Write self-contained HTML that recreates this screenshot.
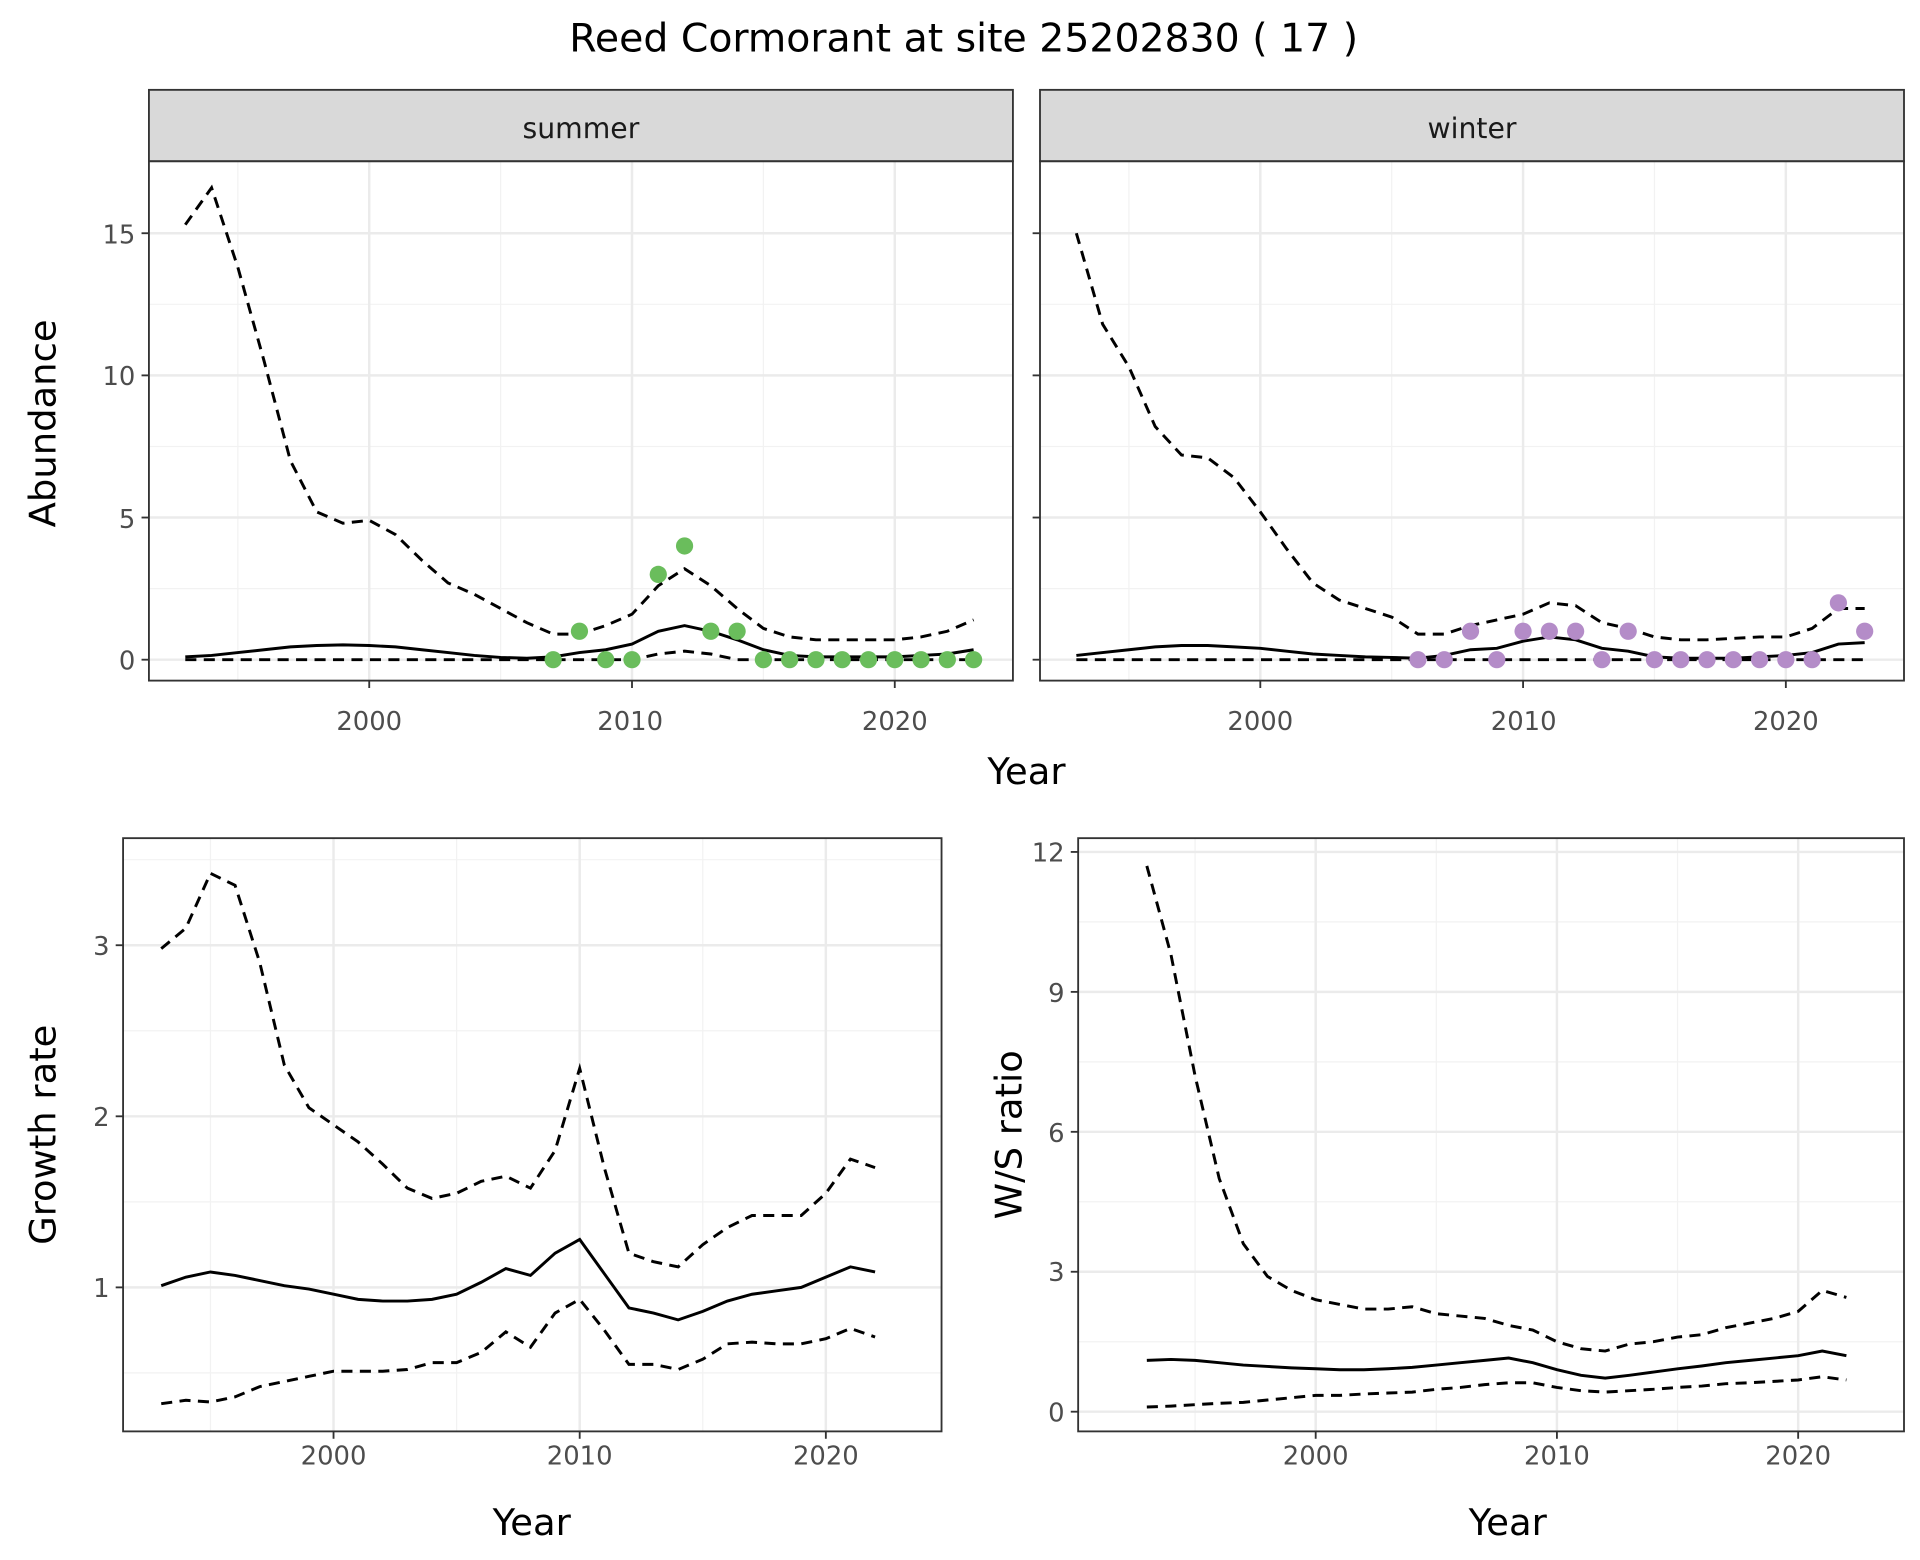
<!DOCTYPE html>
<html><head><meta charset="utf-8"><style>
html,body{margin:0;padding:0;background:#fff}
svg{display:block}
text{font-family:"DejaVu Sans","Liberation Sans",sans-serif}
</style></head><body>
<svg id="s" width="1920" height="1560" viewBox="0 0 1560 1267.5" xmlns="http://www.w3.org/2000/svg">
<rect width="1560" height="1268" fill="#fff"/>
<g id="grid"></g>
<g id="data"></g>
<text x="783" y="42" font-size="32" text-anchor="middle" fill="#000">Reed Cormorant at site 25202830 ( 17 )</text>
<rect x="121" y="73" width="702" height="58" fill="#d9d9d9" stroke="#333" stroke-width="1.5"/>
<rect x="845" y="73" width="702" height="58" fill="#d9d9d9" stroke="#333" stroke-width="1.5"/>
<text x="472" y="112" font-size="23" text-anchor="middle" fill="#1a1a1a">summer</text>
<text x="1196" y="112" font-size="23" text-anchor="middle" fill="#1a1a1a">winter</text>
<rect x="121" y="131" width="702" height="422" fill="none" stroke="#333" stroke-width="1.5"/>
<rect x="845" y="131" width="702" height="422" fill="none" stroke="#333" stroke-width="1.5"/>
<rect x="100" y="681" width="665" height="482" fill="none" stroke="#333" stroke-width="1.5"/>
<rect x="876" y="681" width="671" height="482" fill="none" stroke="#333" stroke-width="1.5"/>
<g font-size="21" fill="#4d4d4d">
<g text-anchor="end">
<text x="110" y="198">15</text><text x="110" y="313">10</text><text x="110" y="429">5</text><text x="110" y="544">0</text>
<text x="89" y="776">3</text><text x="89" y="915">2</text><text x="89" y="1054">1</text>
<text x="865" y="700">12</text><text x="865" y="814">9</text><text x="865" y="928">6</text><text x="865" y="1041">3</text><text x="865" y="1155">0</text>
</g>
<g text-anchor="middle">
<text x="300" y="593">2000</text><text x="512" y="593">2010</text><text x="727" y="593">2020</text>
<text x="1024" y="593">2000</text><text x="1238" y="593">2010</text><text x="1451" y="593">2020</text>
<text x="271" y="1190">2000</text><text x="471" y="1190">2010</text><text x="671" y="1190">2020</text>
<text x="1069" y="1190">2000</text><text x="1265" y="1190">2010</text><text x="1461" y="1190">2020</text>
</g></g>
<g font-size="30" fill="#000" text-anchor="middle">
<text x="834" y="637">Year</text>
<text x="432" y="1247">Year</text>
<text x="1225" y="1247">Year</text>
<text transform="translate(45,344) rotate(-90)">Abundance</text>
<text transform="translate(45,922) rotate(-90)">Growth rate</text>
<text transform="translate(830,922) rotate(-90)">W/S ratio</text>
</g>
</svg>
<script>
var NS="http://www.w3.org/2000/svg";
function el(p,t,a){var e=document.createElementNS(NS,t);for(var k in a)e.setAttribute(k,a[k]);document.getElementById(p).appendChild(e);return e;}
function panel(P){
 P.xmin.forEach(function(v){var x=P.fx(v);el("grid","line",{x1:x,x2:x,y1:P.y0,y2:P.y1,stroke:"#f2f2f2","stroke-width":1});});
 P.ymin.forEach(function(v){var y=P.fy(v);el("grid","line",{x1:P.x0,x2:P.x1,y1:y,y2:y,stroke:"#f2f2f2","stroke-width":1});});
 P.xmaj.forEach(function(v){var x=P.fx(v);el("grid","line",{x1:x,x2:x,y1:P.y0,y2:P.y1,stroke:"#ebebeb","stroke-width":2});
   el("grid","line",{x1:x,x2:x,y1:P.y1,y2:P.y1+6,stroke:"#333","stroke-width":1.5});});
 P.ymaj.forEach(function(v){var y=P.fy(v);el("grid","line",{x1:P.x0,x2:P.x1,y1:y,y2:y,stroke:"#ebebeb","stroke-width":2});
   el("grid","line",{x1:P.x0-6,x2:P.x0,y1:y,y2:y,stroke:"#333","stroke-width":1.5});});
 function line(arr,dash){var pts=arr.map(function(v,i){return P.fx(P.start+i)+","+P.fy(v);}).join(" ");
  var a={points:pts,fill:"none",stroke:"#000","stroke-width":2.4};if(dash)a["stroke-dasharray"]="9,6";el("data","polyline",a);}
 line(P.up,1);line(P.lo,1);line(P.m,0);
 if(P.pts)P.pts.forEach(function(p){el("data","circle",{cx:P.fx(p[0]),cy:P.fy(p[1]),r:7,fill:P.col});});
}
var sm=[.1,.15,.25,.35,.45,.5,.52,.5,.45,.35,.25,.15,.08,.05,.1,.25,.35,.55,1.0,1.2,1.0,.7,.35,.15,.1,.1,.1,.1,.15,.2,.35];
var su=[15.3,16.6,13.8,10.5,7,5.2,4.8,4.9,4.4,3.5,2.7,2.3,1.8,1.3,.9,.9,1.2,1.6,2.6,3.2,2.6,1.8,1.1,.8,.7,.7,.7,.7,.8,1.0,1.4];
var sl=sm.map(function(v,i){return (i>=18&&i<=20)?[.2,.3,.2][i-18]:0;});
var spts=[[2007,0],[2008,1],[2009,0],[2010,0],[2011,3],[2012,4],[2013,1],[2014,1]];for(var y=2015;y<=2023;y++)spts.push([y,0]);
var wu=[15,11.8,10.3,8.2,7.2,7.1,6.4,5.2,3.9,2.7,2.1,1.8,1.5,.9,.9,1.2,1.4,1.6,2.0,1.9,1.3,1.1,.8,.7,.7,.75,.8,.8,1.1,1.8,1.8];
var wm=[.15,.25,.35,.45,.5,.5,.45,.4,.3,.2,.15,.1,.08,.05,.15,.35,.4,.65,.8,.7,.4,.3,.1,.05,.05,.05,.1,.15,.25,.55,.6];
var wl=wm.map(function(){return 0;});
var wpts=[[2006,0],[2007,0],[2008,1],[2009,0],[2010,1],[2011,1],[2012,1],[2013,0],[2014,1]];for(y=2015;y<=2021;y++)wpts.push([y,0]);wpts.push([2022,2],[2023,1]);
var topY=function(v){return 536-23.1*v;};
panel({x0:121,x1:823,y0:131,y1:553,fx:function(y){return 300+(y-2000)*21.35;},fy:topY,xmaj:[2000,2010,2020],xmin:[1995,2005,2015],ymaj:[0,5,10,15],ymin:[2.5,7.5,12.5],start:1993,up:su,lo:sl,m:sm,pts:spts,col:"#6abd5c"});
panel({x0:845,x1:1547,y0:131,y1:553,fx:function(y){return 1024+(y-2000)*21.35;},fy:topY,xmaj:[2000,2010,2020],xmin:[1995,2005,2015],ymaj:[0,5,10,15],ymin:[2.5,7.5,12.5],start:1993,up:wu,lo:wl,m:wm,pts:wpts,col:"#b48cc8"});
var gu=[2.98,3.1,3.42,3.35,2.9,2.3,2.05,1.95,1.85,1.72,1.58,1.52,1.55,1.62,1.65,1.58,1.8,2.28,1.7,1.2,1.15,1.12,1.25,1.35,1.42,1.42,1.42,1.55,1.75,1.7];
var gm=[1.01,1.06,1.09,1.07,1.04,1.01,.99,.96,.93,.92,.92,.93,.96,1.03,1.11,1.07,1.2,1.28,1.08,.88,.85,.81,.86,.92,.96,.98,1.0,1.06,1.12,1.09];
var gl=[.32,.34,.33,.36,.42,.45,.48,.51,.51,.51,.52,.56,.56,.62,.74,.65,.85,.93,.75,.55,.55,.52,.58,.67,.68,.67,.67,.7,.76,.71];
panel({x0:100,x1:765,y0:681,y1:1163,fx:function(y){return 271+(y-2000)*20;},fy:function(v){return 1046-139*(v-1);},xmaj:[2000,2010,2020],xmin:[1995,2005,2015],ymaj:[1,2,3],ymin:[.5,1.5,2.5,3.5],start:1993,up:gu,lo:gl,m:gm});
var ru=[11.7,9.8,7.2,5.0,3.6,2.9,2.6,2.4,2.3,2.2,2.2,2.25,2.1,2.05,2.0,1.85,1.75,1.5,1.35,1.3,1.45,1.5,1.6,1.65,1.8,1.9,2.0,2.15,2.6,2.45];
var rm=[1.1,1.12,1.1,1.05,1.0,.97,.94,.92,.9,.9,.92,.95,1.0,1.05,1.1,1.15,1.05,.9,.78,.72,.78,.85,.92,.98,1.05,1.1,1.15,1.2,1.3,1.2];
var rl=[.1,.12,.15,.18,.2,.25,.3,.35,.35,.38,.4,.42,.48,.52,.58,.62,.62,.52,.45,.42,.45,.48,.52,.55,.6,.62,.65,.68,.75,.68];
panel({x0:876,x1:1547,y0:681,y1:1163,fx:function(y){return 1069+(y-2000)*19.6;},fy:function(v){return 1147-37.9*v;},xmaj:[2000,2010,2020],xmin:[1995,2005,2015],ymaj:[0,3,6,9,12],ymin:[1.5,4.5,7.5,10.5],start:1993,up:ru,lo:rl,m:rm});
</script>
</body></html>
